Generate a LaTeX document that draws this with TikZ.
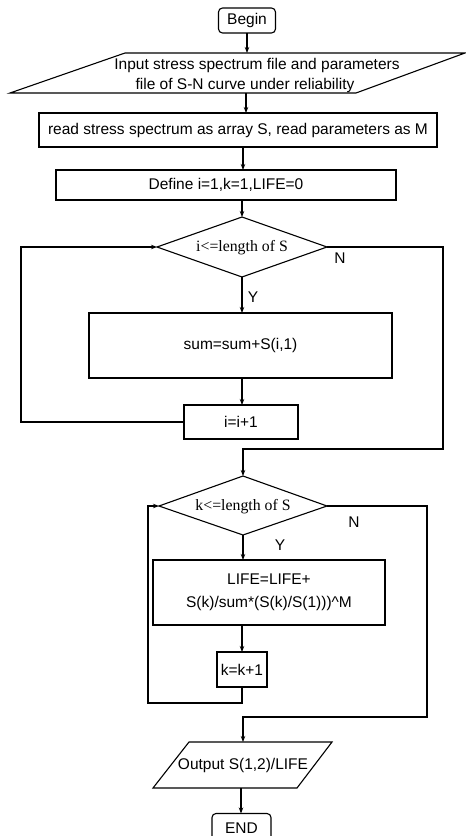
\documentclass[tikz,border=0pt]{standalone}
\usepackage{fontspec}
\setmainfont{Liberation Sans}
\newfontfamily\tms{Liberation Serif}
\usetikzlibrary{arrows.meta}
\begin{document}
\begin{tikzpicture}[x=1pt,y=-1pt, line width=1.1pt,
  font=\fontsize{15.5}{18}\selectfont,
  boxn/.style={draw, rectangle, inner sep=0pt, outer sep=0pt},
  term/.style={draw, rectangle, rounded corners=4pt, inner sep=0pt, outer sep=0pt},
  dec/.style={font=\tms\fontsize{15.8}{18}\selectfont, inner sep=0pt},
  txt/.style={inner sep=0pt},
  arr/.style={-{Stealth[length=6pt,width=4.5pt]}}]
\useasboundingbox (0,0) rectangle (466,836);
% Begin
\node[term, minimum width=57pt, minimum height=25pt] (begin) at (247,20.5) {Begin};
% input parallelogram
\coordinate (p1a) at (10,93); \coordinate (p1b) at (125,53);
\coordinate (p1c) at (465,53); \coordinate (p1d) at (356,93);
\draw (p1a) -- (p1b) -- (p1c) -- (p1d) -- cycle;
\coordinate (p1top) at (247,53); \coordinate (p1bot) at (246,93);
\node[txt] (in1) at (257,65) {Input stress spectrum file and parameters};
\node[txt] (in2) at (245,85) {file of S-N curve under reliability};
\draw[arr] (begin.south) -- (p1top);
% read
\node[boxn, minimum width=398pt, minimum height=34pt] (read) at (238,130) {read stress spectrum as array S, read parameters as M};
\draw[arr] (p1bot) -- (read.north -| p1bot);
% define
\node[boxn, minimum width=340pt, minimum height=30pt] (define) at (226,185) {Define i=1,k=1,LIFE=0};
\coordinate (ax1) at (243,0);
\draw[arr] (read.south -| ax1) -- (define.north -| ax1);
% diamond 1
\coordinate (d1t) at (242,217); \coordinate (d1r) at (327,247);
\coordinate (d1b) at (242,277); \coordinate (d1l) at (157,247);
\draw (d1t) -- (d1r) -- (d1b) -- (d1l) -- cycle;
\node[dec] (d1) at (242,248) {i<=length of S};
\draw[arr] (define.south -| d1t) -- (d1t);
% sum
\node[boxn, minimum width=303pt, minimum height=65pt] (sum) at (240.5,345.5) {sum=sum+S(i,1)};
\draw[arr] (d1b) -- (sum.north -| d1b);
\node[txt] (y1) at (253,297) {Y};
\node[txt] (n1) at (340,258) {N};
% i box
\node[boxn, minimum width=114pt, minimum height=34pt] (ibox) at (241,422) {i=i+1};
\coordinate (ax2) at (242,0);
\draw[arr] (sum.south -| ax2) -- (ibox.north -| ax2);
\coordinate (L1) at (21,422);
\draw[arr] (ibox.west) -- (L1) -- (L1 |- d1l) -- (d1l);
% N branch 1
\coordinate (R1) at (443,449);
\coordinate (d2t) at (243,476); \coordinate (d2r) at (327,506);
\coordinate (d2b) at (243,535); \coordinate (d2l) at (159,506);
\draw[arr] (d1r) -- (R1 |- d1r) -- (R1) -- (R1 -| d2t) -- (d2t);
% diamond 2
\draw (d2t) -- (d2r) -- (d2b) -- (d2l) -- cycle;
\node[dec] (d2) at (243,507) {k<=length of S};
\node[txt] (n2) at (354,522) {N};
\node[txt] (y2) at (280,545) {Y};
% LIFE
\node[boxn, minimum width=232pt, minimum height=65pt, align=center,
  font=\fontsize{15.5}{23}\selectfont] (life) at (269,592.5) {LIFE=LIFE+\\S(k)/sum*(S(k)/S(1)))\^{}M};
\draw[arr] (d2b) -- (life.north -| d2b);
% k box
\node[boxn, minimum width=50pt, minimum height=35pt] (kbox) at (242,669.5) {k=k+1};
\draw[arr] (life.south -| ax2) -- (kbox.north -| ax2);
\coordinate (L2) at (148,703);
\draw[arr] (kbox.south) -- (kbox.south |- L2) -- (L2) -- (L2 |- d2l) -- (d2l);
% N branch 2
\coordinate (R2) at (427,717);
\coordinate (o1t) at (243,742); \coordinate (o1b) at (241,788);
\draw[arr] (d2r) -- (R2 |- d2r) -- (R2) -- (R2 -| o1t) -- (o1t);
% output
\coordinate (o1a) at (153,788); \coordinate (o1c) at (189,742);
\coordinate (o1d) at (332,742); \coordinate (o1e) at (297,788);
\draw (o1a) -- (o1c) -- (o1d) -- (o1e) -- cycle;
\node[txt] (out) at (243,765) {Output S(1,2)/LIFE};
% END
\node[term, minimum width=59pt, minimum height=29pt] (endn) at (241.5,828) {END};
\draw[arr] (o1b) -- (endn.north -| o1b);
\end{tikzpicture}
\end{document}
